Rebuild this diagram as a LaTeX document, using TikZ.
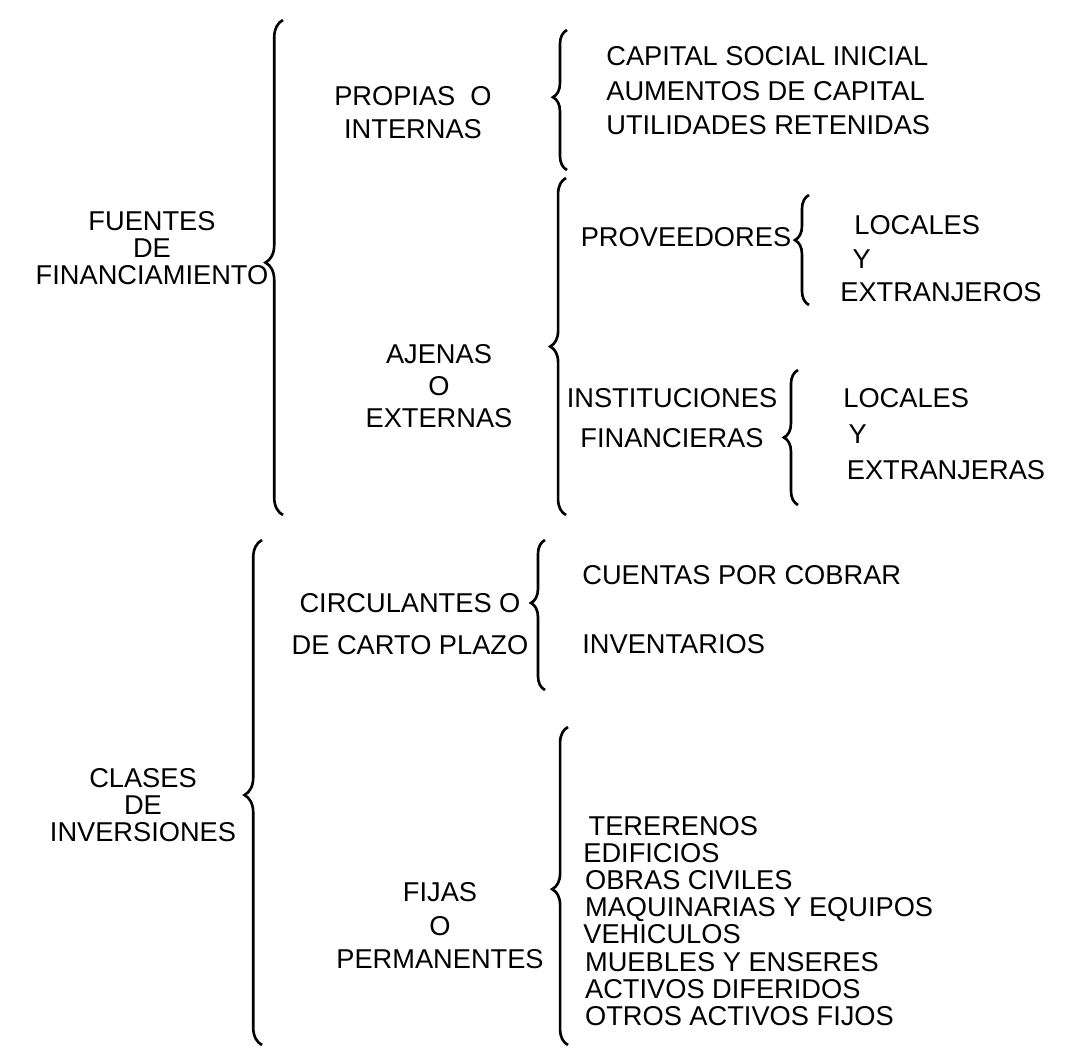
\documentclass[tikz,border=0pt]{standalone}
\usepackage{fontspec}
\setmainfont{Liberation Sans}
\usetikzlibrary{decorations.pathreplacing}
\tikzset{
  lbl/.style={
    inner sep=0pt, align=center,
    font=\fontsize{15.5}{#1}\selectfont
  },
  lbl/.default=18pt,
  lst/.style={
    inner sep=0pt, anchor=west, align=left,
    font=\fontsize{15.5}{#1}\selectfont
  },
  lst/.default=18pt,
  curly/.style 2 args={
    decorate, decoration={brace, amplitude=#1, aspect=#2},
    line width=1.5pt
  },
}

\begin{document}
\begin{tikzpicture}[x=0.02cm, y=-0.02cm]
  \useasboundingbox (0,0) rectangle (1069,1054);

  % fuentes de financiamiento
  \node[lbl=15.5pt] (fuentes) at (152,248) {FUENTES\\DE\\FINANCIAMIENTO};
  \coordinate (b1s) at (283,515);
  \coordinate (b1e) at (283,20);
  \draw[curly={10pt}{0.51}] (b1s) -- (b1e);

  \node[lbl=18.8pt] (propias) at (413,113) {PROPIAS\ \ O\\INTERNAS};
  \coordinate (b2s) at (567,170);
  \coordinate (b2e) at (567,30);
  \draw[curly={8pt}{0.52}] (b2s) -- (b2e);
  \node[lst=19.6pt] (capital) at (606,91)
    {CAPITAL SOCIAL INICIAL\\AUMENTOS DE CAPITAL\\UTILIDADES RETENIDAS};

  \node[lbl=18.2pt] (ajenas) at (439,386) {AJENAS\\O\\EXTERNAS};
  \coordinate (b3s) at (566,515);
  \coordinate (b3e) at (566,178);
  \draw[curly={9pt}{0.50}] (b3s) -- (b3e);

  \node[lbl] (proveed) at (686,237) {PROVEEDORES};
  \coordinate (b4s) at (809,305);
  \coordinate (b4e) at (809,195);
  \draw[curly={8pt}{0.59}] (b4s) -- (b4e);
  \node[lst=19pt] (provlist) at (840,259)
    {\hspace*{8pt}LOCALES\\\hspace*{7pt}Y\\EXTRANJEROS};

  \node[lbl=22.8pt] (instit) at (672,418) {INSTITUCIONES\\FINANCIERAS};
  \coordinate (b5s) at (798,505);
  \coordinate (b5e) at (798,370);
  \draw[curly={8pt}{0.50}] (b5s) -- (b5e);
  \node[lst=20.5pt] (instlist) at (843,434)
    {LOCALES\\\hspace*{3pt}Y\\\hspace*{2pt}EXTRANJERAS};

  % clases de inversiones
  \node[lbl=15.5pt] (clases) at (143,805) {CLASES\\DE\\INVERSIONES};
  \coordinate (b6s) at (262,1045);
  \coordinate (b6e) at (262,540);
  \draw[curly={10pt}{0.495}] (b6s) -- (b6e);

  \node[lbl=23.9pt] (circ) at (410,624) {CIRCULANTES O\\DE CARTO PLAZO};
  \coordinate (b7s) at (545,690);
  \coordinate (b7e) at (545,540);
  \draw[curly={8pt}{0.58}] (b7s) -- (b7e);
  \node[lst=39.3pt] (circlist) at (582,610)
    {CUENTAS POR COBRAR\\INVENTARIOS};

  \node[lbl=19pt] (fijas) at (440,926) {FIJAS\\O\\PERMANENTES};
  \coordinate (b8s) at (568,1045);
  \coordinate (b8e) at (568,727);
  \draw[curly={9pt}{0.49}] (b8s) -- (b8e);
  \node[lst=15.5pt] (fijlist) at (583,921)
    {\hspace*{3pt}TERERENOS\\EDIFICIOS\\\hspace*{1pt}OBRAS CIVILES\\
     \hspace*{1pt}MAQUINARIAS Y EQUIPOS\\VEHICULOS\\
     \hspace*{1pt}MUEBLES Y ENSERES\\\hspace*{1pt}ACTIVOS DIFERIDOS\\
     \hspace*{1pt}OTROS ACTIVOS FIJOS};
\end{tikzpicture}
\end{document}
